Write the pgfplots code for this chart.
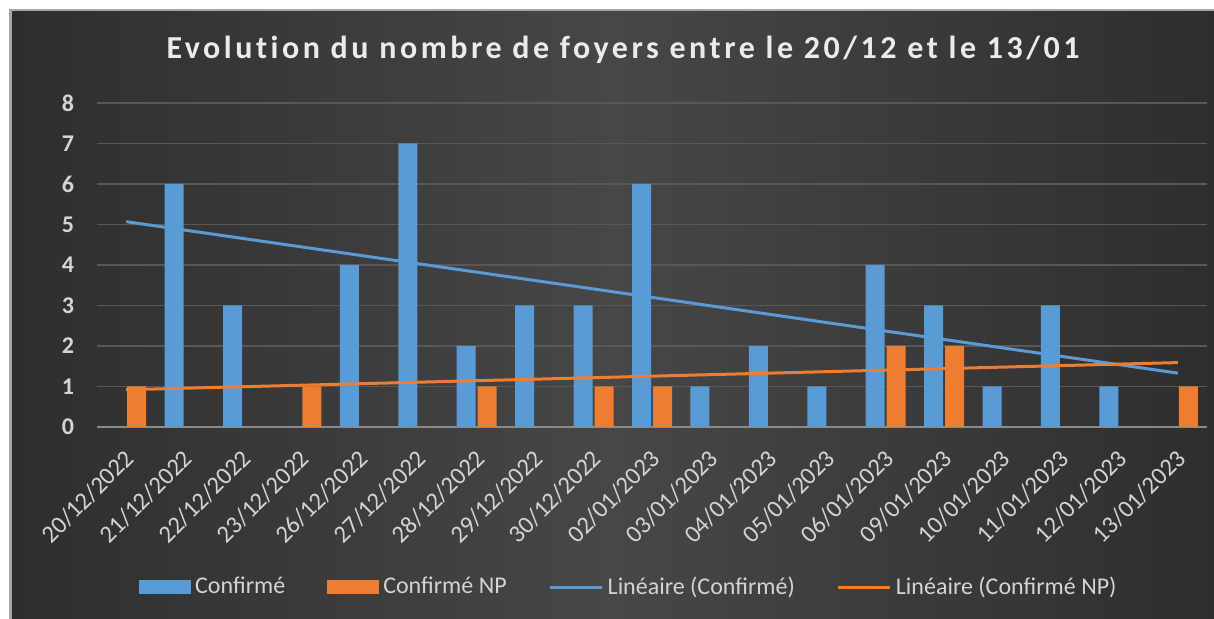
\documentclass[border=0pt]{standalone}
\usepackage{fontspec}
\setmainfont{Carlito}
\newfontfamily\titlefont[LetterSpace=11,Ligatures=NoCommon]{Carlito}
\usepackage{pgfplots}
\usepackage{pgfplotstable}
\pgfplotsset{compat=1.18}
\definecolor{cblue}{HTML}{5B9BD5}
\definecolor{corange}{HTML}{ED7D31}
\definecolor{bgdark}{HTML}{2E2E2E}
\definecolor{bgmid}{HTML}{474747}
\definecolor{gridc}{HTML}{585858}
\definecolor{axisc}{HTML}{8A8A8A}
\definecolor{txt}{HTML}{D4D4D4}

\pgfplotstableread{
x y
2 6
3 3
5 4
6 7
7 2
8 3
9 3
10 6
11 1
12 2
13 1
14 4
15 3
16 1
17 3
18 1
}\confirme

\pgfplotstableread{
x y
1 1
4 1
7 1
9 1
10 1
14 2
15 2
19 1
}\confirmeNP

\pgfplotstableread{
x y
1 5.07
19 1.33
}\trendC

\pgfplotstableread{
x y
1 0.92
19 1.59
}\trendNP

\begin{document}
\begin{tikzpicture}[x=1pt,y=1pt]
\useasboundingbox (0,0) rectangle (607,309.5);
\fill[white] (0,0) rectangle (607,309.5);
\shade[left color=bgdark, right color=bgdark, middle color=bgmid] (6,0) rectangle (607,304);
\draw[gray!70, line width=1.2pt] (5.2,0) -- (5.2,304.6) -- (607,304.6);
\node[text=white!92!black, font=\titlefont\bfseries\fontsize{16}{19}\selectfont] at (311.5,284.5) {Evolution du nombre de foyers entre le 20/12 et le 13/01};
\begin{axis}[
  at={(48.5pt,96pt)}, anchor=south west,
  scale only axis, width=555pt, height=162pt,
  xmin=0.5, xmax=19.5, ymin=0, ymax=8,
  ytick={0,1,...,8},
  xtick={1,...,19},
  xticklabels={20/12/2022,21/12/2022,22/12/2022,23/12/2022,26/12/2022,27/12/2022,28/12/2022,29/12/2022,30/12/2022,02/01/2023,03/01/2023,04/01/2023,05/01/2023,06/01/2023,09/01/2023,10/01/2023,11/01/2023,12/01/2023,13/01/2023},
  /pgf/number format/assume math mode=true,
  separate axis lines,
  axis x line*=bottom, axis y line*=left,
  x axis line style={draw=axisc, line width=1pt},
  y axis line style={draw=none},
  major tick length=0pt,
  tick style={draw=none},
  ymajorgrids, grid style={draw=gridc, line width=0.8pt},
  yticklabel style={font=\bfseries\fontsize{12}{14}\selectfont, text=txt, xshift=-8pt},
  xticklabel style={rotate=45, anchor=east, font=\fontsize{12.3}{14}\selectfont, text=txt, xshift=-5pt, yshift=-11pt},
  legend columns=4,
  legend style={at={(0.48,-0.494)}, anchor=center, draw=none, fill=none, text=txt,
    font=\fontsize{12}{14}\selectfont},
]
\addplot[ybar, bar width=9.5pt, bar shift=-5.25pt, fill=cblue, draw=none,
  legend image code/.code={\fill[cblue] (0pt,-3.5pt) rectangle (26pt,3.5pt);}]
  table[x=x,y=y] {\confirme};
\addlegendentry{Confirmé\rule{19pt}{0pt}}
\addplot[ybar, bar width=9.5pt, bar shift=5.25pt, fill=corange, draw=none,
  legend image code/.code={\fill[corange] (0pt,-3.5pt) rectangle (26pt,3.5pt);}]
  table[x=x,y=y] {\confirmeNP};
\addlegendentry{Confirmé NP\rule{19pt}{0pt}}
\addplot[cblue, line width=1.5pt, mark=none,
  legend image code/.code={\draw[cblue, line width=1.5pt] (0pt,0pt) -- (26pt,0pt);}]
  table[x=x,y=y] {\trendC};
\addlegendentry{Linéaire (Confirmé)\rule{19pt}{0pt}}
\addplot[corange, line width=1.5pt, mark=none,
  legend image code/.code={\draw[corange, line width=1.5pt] (0pt,0pt) -- (26pt,0pt);}]
  table[x=x,y=y] {\trendNP};
\addlegendentry{Linéaire (Confirmé NP)}
\end{axis}
\end{tikzpicture}
\end{document}
